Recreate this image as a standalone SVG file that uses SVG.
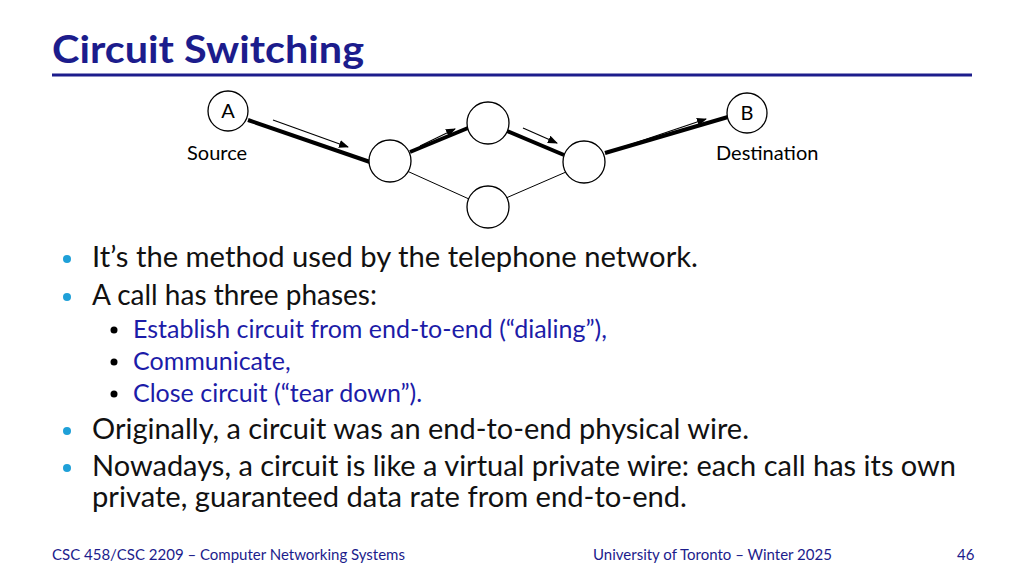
<svg xmlns="http://www.w3.org/2000/svg" width="1024" height="576" viewBox="0 0 1024 576">
<style>
text{font-family:Lato,"Open Sans","Liberation Sans",sans-serif;}
.n{fill:#fff;stroke:#000;stroke-width:1.3}
.lbl{font-size:20px;fill:#000}
.thick{stroke:#000;stroke-width:4}
.thin{stroke:#000;stroke-width:1}
.arr{stroke:#000;stroke-width:1.2;marker-end:url(#ah)}
.b1{font-size:28px;fill:#111}
.b2{font-size:25px;fill:#1c1ca8}
.ft{font-size:15px;fill:#1c1c8c}
</style>
<defs><marker id="ah" markerWidth="10" markerHeight="8" refX="9" refY="4" orient="auto" markerUnits="userSpaceOnUse"><path d="M0,0 L10,4 L0,8 z" fill="#000"/></marker></defs>
<rect width="1024" height="576" fill="#fff"/>
<text x="52" y="63" font-size="38" font-weight="bold" fill="#1c1c8c" textLength="312" lengthAdjust="spacingAndGlyphs">Circuit Switching</text>
<line x1="52" y1="75" x2="972" y2="75" stroke="#1c1c8c" stroke-width="3"/>
<g id="connectors">
<line class="thick" x1="248" y1="120" x2="370" y2="162"/>
<line class="thick" x1="410" y1="152" x2="468" y2="128"/>
<line class="thick" x1="507" y1="131" x2="564" y2="155"/>
<line class="thick" x1="605" y1="153" x2="728" y2="117"/>
<line class="thin" x1="407" y1="171" x2="469" y2="199"/>
<line class="thin" x1="506" y1="198" x2="566" y2="172"/>
<line class="arr" x1="273" y1="120" x2="348" y2="147"/>
<line class="arr" x1="420" y1="146" x2="455" y2="129"/>
<line class="arr" x1="523" y1="128" x2="557" y2="143"/>
<line class="arr" x1="623" y1="147" x2="706" y2="119"/>
</g>
<g id="A"><circle class="n" cx="228" cy="111" r="20"/><text class="lbl" x="228" y="118" text-anchor="middle">A</text></g>
<g id="B"><circle class="n" cx="747" cy="113" r="20"/><text class="lbl" x="747" y="120" text-anchor="middle">B</text></g>
<g id="n1"><circle class="n" cx="390" cy="161" r="21"/></g>
<g id="n2"><circle class="n" cx="488" cy="123" r="21"/></g>
<g id="n3"><circle class="n" cx="488" cy="207" r="21"/></g>
<g id="n4"><circle class="n" cx="584" cy="162" r="21"/></g>
<text class="lbl" x="187" y="160">Source</text>
<text class="lbl" x="716" y="160">Destination</text>
<g fill="#1fa0d8"><circle cx="67" cy="259" r="4"/><circle cx="67" cy="297" r="4"/><circle cx="67" cy="431" r="4"/><circle cx="67" cy="468" r="4"/></g>
<g fill="#000"><circle cx="114" cy="330" r="3.5"/><circle cx="114" cy="362" r="3.5"/><circle cx="114" cy="394" r="3.5"/></g>
<text class="b1" x="92" y="267" textLength="606" lengthAdjust="spacingAndGlyphs">It’s the method used by the telephone network.</text>
<text class="b1" x="92" y="305">A call has three phases:</text>
<text class="b2" x="133" y="338">Establish circuit from end-to-end (“dialing”),</text>
<text class="b2" x="133" y="370">Communicate,</text>
<text class="b2" x="133" y="402">Close circuit (“tear down”).</text>
<text class="b1" x="92" y="439" textLength="657" lengthAdjust="spacingAndGlyphs">Originally, a circuit was an end-to-end physical wire.</text>
<text class="b1" x="92" y="476" textLength="864" lengthAdjust="spacingAndGlyphs">Nowadays, a circuit is like a virtual private wire: each call has its own</text>
<text class="b1" x="92" y="507" textLength="595" lengthAdjust="spacingAndGlyphs">private, guaranteed data rate from end-to-end.</text>
<text class="ft" x="52" y="560">CSC 458/CSC 2209 – Computer Networking Systems</text>
<text class="ft" x="593" y="560">University of Toronto – Winter 2025</text>
<text class="ft" x="957" y="560">46</text>
</svg>
